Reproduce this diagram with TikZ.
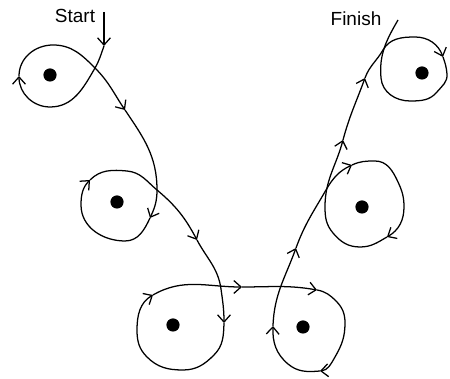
\documentclass[tikz,border=0pt]{standalone}
\usepackage{fontspec}
\setmainfont{Liberation Sans}
\usetikzlibrary{arrows.meta}

\begin{document}
\begin{tikzpicture}[
			x=0.025cm, y=0.025cm,
			dot/.style={circle, fill=black, inner sep=0pt, minimum size=3.3mm},
			track/.style={line width=0.9pt, -{Straight Barb[length=1.8mm, width=3.2mm]}},
			trackend/.style={line width=0.9pt},
			tag/.style={font=\fontsize{13.5}{16}\selectfont},
			]
			\useasboundingbox (0,0) rectangle (450,379);
			%Nodes
				% dots
				\node[dot]		(dot1)		at (50,304)		{};
				\node[dot]		(dot2)		at (117,177)	{};
				\node[dot]		(dot3)		at (173,54)		{};
				\node[dot]		(dot4)		at (303,52)		{};
				\node[dot]		(dot5)		at (362,172)	{};
				\node[dot]		(dot6)		at (422,306)	{};
				% labels
				\node[tag]		(start)		at (75,363)		{Start};
				\node[tag]		(finish)	at (356,360)	{Finish};
				% first loop
				\coordinate		(s0)		at (104,367);
				\coordinate		(s1)		at (104,333);
				\coordinate		(x1)		at (95,311);
				\coordinate		(b1)		at (50,272);
				\coordinate		(l1)		at (19,303);
				\coordinate		(t1)		at (53,334);
				\coordinate		(a1)		at (125,269);
				% second loop
				\coordinate		(x2)		at (157,189);
				\coordinate		(a2)		at (150,161);
				\coordinate		(b2)		at (125,138);
				\coordinate		(l2)		at (81,174);
				\coordinate		(a3)		at (90,199);
				\coordinate		(t2)		at (127,208);
				\coordinate		(a4)		at (197,139);
				% third loop
				\coordinate		(x3)		at (221,90);
				\coordinate		(a5)		at (224,56);
				\coordinate		(q3a)		at (214,24);
				\coordinate		(b3)		at (183,9);
				\coordinate		(q3b)		at (147,22);
				\coordinate		(l3)		at (137,49);
				\coordinate		(a6)		at (153,84);
				\coordinate		(a7)		at (242,92);
				% fourth loop
				\coordinate		(a8)		at (317,89);
				\coordinate		(q4a)		at (336,78);
				\coordinate		(r4)		at (345,56);
				\coordinate		(q4b)		at (335,22);
				\coordinate		(a9)		at (320,8);
				\coordinate		(q4c)		at (288,15);
				\coordinate		(a10)		at (273,53);
				\coordinate		(a11)		at (296,131);
				% fifth loop
				\coordinate		(x5)		at (326,189);
				\coordinate		(a12)		at (352,214);
				\coordinate		(t5)		at (375,218);
				\coordinate		(q5a)		at (398,197);
				\coordinate		(r5)		at (404,172);
				\coordinate		(a13)		at (387,142);
				\coordinate		(b5)		at (360,132);
				\coordinate		(q5b)		at (333,146);
				\coordinate		(l5)		at (325,172);
				\coordinate		(a14)		at (343,239);
				\coordinate		(a15)		at (365,301);
				% sixth loop
				\coordinate		(x6)		at (383,329);
				\coordinate		(t6)		at (415,342);
				\coordinate		(a16)		at (443,322);
				\coordinate		(r6)		at (447,305);
				\coordinate		(q6)		at (437,287);
				\coordinate		(b6)		at (410,278);
				\coordinate		(l6)		at (381,301);
				\coordinate		(f)			at (398,359);

			%Lines
				% first loop
				\draw[track] (s0) -- (s1);
				\draw[track] (s1) to[out=250,in=60] (x1) to[out=240,in=0] (b1) to[out=180,in=270] (l1);
				\draw[track] (l1) to[out=90,in=180] (t1) to[out=0,in=135] (x1) to[out=315,in=124] (a1);
				% second loop
				\draw[track] (a1) to[out=304,in=90] (x2) to[out=270,in=65] (a2);
				\draw[track] (a2) to[out=245,in=0] (b2) to[out=180,in=270] (l2) to[out=90,in=225] (a3);
				\draw[track] (a3) to[out=45,in=175] (t2) to[out=355,in=140] (x2) to[out=320,in=118] (a4);
				% third loop
				\draw[track] (a4) to[out=298,in=98] (x3) to[out=278,in=90] (a5);
				\draw[track] (a5) to[out=268,in=45] (q3a) to[out=225,in=0] (b3) to[out=180,in=315] (q3b) to[out=135,in=270] (l3) to[out=90,in=210] (a6);
				\draw[track] (a6) to[out=30,in=180] (a7);
				% fourth loop
				\draw[track] (a7) to[out=0,in=170] (a8);
				\draw[track] (a8) to[out=350,in=135] (q4a) to[out=315,in=90] (r4) to[out=270,in=60] (q4b) to[out=240,in=5] (a9);
				\draw[track] (a9) to[out=185,in=320] (q4c) to[out=140,in=268] (a10);
				\draw[track] (a10) to[out=88,in=250] (a11);
				% fifth loop
				\draw[track] (a11) to[out=70,in=240] (x5) to[out=60,in=205] (a12);
				\draw[track] (a12) to[out=25,in=180] (t5) to[out=0,in=115] (q5a) to[out=295,in=90] (r5) to[out=270,in=30] (a13);
				\draw[track] (a13) to[out=210,in=0] (b5) to[out=180,in=310] (q5b) to[out=130,in=270] (l5) to[out=90,in=255] (a14);
				\draw[track] (a14) to[out=75,in=250] (a15);
				% sixth loop
				\draw[track] (a15) to[out=70,in=240] (x6) to[out=60,in=180] (t6) to[out=0,in=110] (a16);
				\draw[trackend] (a16) to[out=290,in=95] (r6) to[out=275,in=50] (q6) to[out=230,in=0] (b6) to[out=180,in=275] (l6) to[out=95,in=240] (f);
		\end{tikzpicture}
\end{document}
